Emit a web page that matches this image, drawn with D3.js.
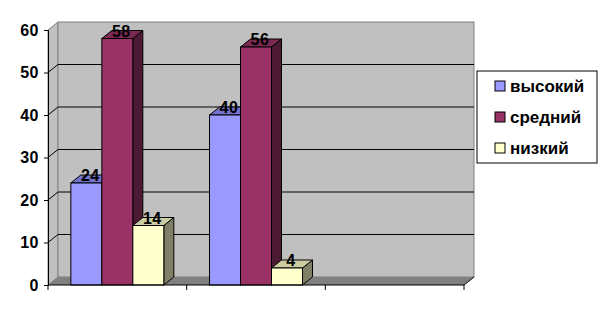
<!DOCTYPE html>
<html>
<head>
<meta charset="utf-8">
<script src="https://cdn.jsdelivr.net/npm/d3@7"></script>
<style>
  body { margin: 0; background: #fff; }
  svg { display: block; font-family: Arial, "Liberation Sans", sans-serif; font-weight: bold; }
</style>
</head>
<body>
<svg width="603" height="317"></svg>
<script>
// categories on the x axis (no labels shown), third one is empty
var categories = ["1", "2", "3"];
var seriesNames = ["высокий", "средний", "низкий"];
var vysokiy = [24, 40, null];
var sredniy = [58, 56, null];
var nizkiy = [14, 4, null];
var yTicks = [0, 10, 20, 30, 40, 50, 60];

var series = [vysokiy, sredniy, nizkiy];
var colors = {
  front: ["#9999ff", "#993366", "#ffffcc"],
  top:   ["#7373cc", "#7a2952", "#cccca3"],
  side:  ["#4d4d80", "#4d1a33", "#808066"]
};

var svg = d3.select("svg");
var dx = 10, dy = -8; // 3d depth

var y = d3.scaleLinear().domain([0, 60]).range([285, 30]);
var x0 = d3.scaleBand().domain(categories).range([48, 464]);
var x1 = d3.scaleBand().domain(d3.range(series.length))
    .range([0, x0.bandwidth()]).paddingOuter(0.737);

var left = x0.range()[0], right = x0.range()[1];
var y0 = y(0), yTop = y(60);

// side wall + back wall
svg.append("polygon")
    .attr("points", [[left, yTop], [left + dx, yTop + dy], [left + dx, y0 + dy], [left, y0]].join(" "))
    .attr("fill", "#c0c0c0").attr("stroke", "#808080");
svg.append("rect")
    .attr("x", left + dx).attr("y", yTop + dy)
    .attr("width", right - left).attr("height", y0 - yTop)
    .attr("fill", "#c0c0c0").attr("stroke", "#808080");

// floor
svg.append("polygon")
    .attr("points", [[left, y0], [left + dx, y0 + dy], [right + dx, y0 + dy], [right, y0]].join(" "))
    .attr("fill", "#808080");

// gridlines
yTicks.filter(function(d) { return d > 0 && d < 60; }).forEach(function(t) {
  svg.append("polyline")
      .attr("points", [[left, y(t)], [left + dx, y(t) + dy], [right + dx, y(t) + dy]].join(" "))
      .attr("fill", "none").attr("stroke", "#000");
});

// bars
var g = svg.append("g");
categories.forEach(function(c, ci) {
  series.forEach(function(s, si) {
    var v = s[ci];
    if (v == null) return;
    var bx = x0(c) + x1(si), bw = x1.bandwidth(), by = y(v);
    var bar = g.append("g").attr("stroke", "#000").attr("stroke-width", 1);
    bar.append("polygon")
        .attr("points", [[bx + bw, by], [bx + bw + dx, by + dy], [bx + bw + dx, y0 + dy], [bx + bw, y0]].join(" "))
        .attr("fill", colors.side[si]);
    bar.append("polygon")
        .attr("points", [[bx, by], [bx + dx, by + dy], [bx + bw + dx, by + dy], [bx + bw, by]].join(" "))
        .attr("fill", colors.top[si]);
    bar.append("rect")
        .attr("x", bx).attr("y", by).attr("width", bw).attr("height", y0 - by)
        .attr("fill", colors.front[si]);
    svg.append("text")
        .attr("x", bx + bw / 2 + 4).attr("y", by - 2)
        .attr("text-anchor", "middle").attr("font-size", 16)
        .attr("letter-spacing", 0.5)
        .text(v);
  });
});

// front axes
var yAxis = svg.append("g").attr("transform", "translate(" + left + ",0)")
    .call(d3.axisLeft(y).tickValues(yTicks).tickSize(4).tickPadding(5));
yAxis.select(".domain").attr("stroke", "#000");
yAxis.selectAll("text").attr("font-size", 16).attr("font-family", "Arial, 'Liberation Sans', sans-serif")
    .attr("font-weight", "bold").attr("fill", "#000").attr("letter-spacing", 0.5);

svg.append("line")
    .attr("x1", left).attr("x2", right).attr("y1", y0).attr("y2", y0).attr("stroke", "#000");
svg.append("line")
    .attr("x1", right).attr("y1", y0).attr("x2", right + dx).attr("y2", y0 + dy).attr("stroke", "#000");
x0.domain().concat(["end"]).forEach(function(c, i) {
  var tx = i < categories.length ? x0(c) : right;
  svg.append("line").attr("x1", tx).attr("x2", tx).attr("y1", y0).attr("y2", y0 + 5).attr("stroke", "#000");
});

// legend
var legend = svg.append("g").attr("transform", "translate(477,71)");
legend.append("rect").attr("width", 120).attr("height", 92)
    .attr("fill", "#fff").attr("stroke", "#000");
seriesNames.forEach(function(name, i) {
  var row = legend.append("g").attr("transform", "translate(18," + (10 + i * 31) + ")");
  row.append("rect").attr("width", 10).attr("height", 10)
      .attr("fill", colors.front[i]).attr("stroke", "#000");
  row.append("text").attr("x", 15).attr("y", 10.5).attr("font-size", 17)
      .text(name);
});
</script>
</body>
</html>
